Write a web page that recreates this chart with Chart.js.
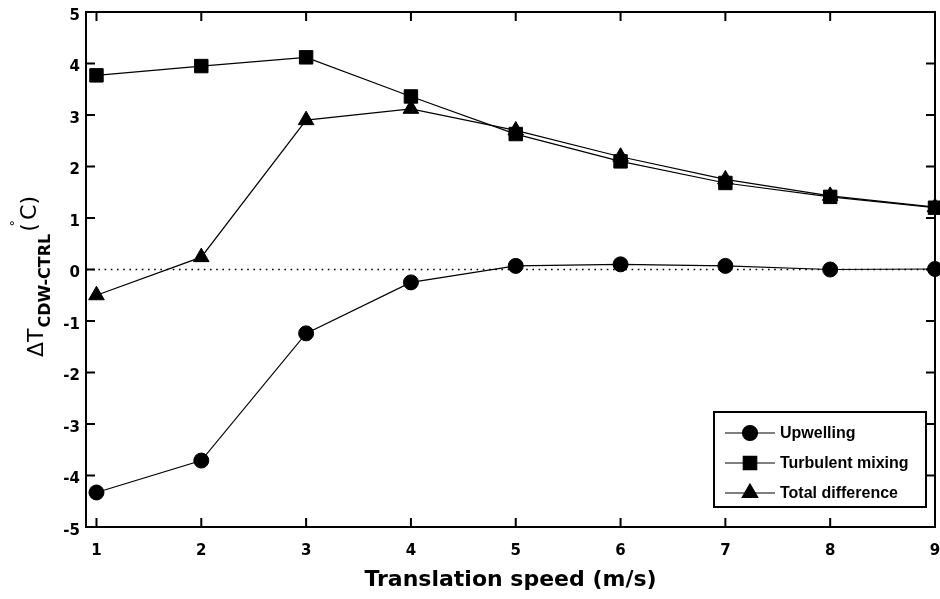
<!DOCTYPE html>
<html>
<head>
<meta charset="utf-8">
<script src="https://cdn.jsdelivr.net/npm/chart.js@4/dist/chart.umd.min.js"></script>
<style>
  html, body { margin: 0; padding: 0; background: #ffffff; }
  #wrap { width: 940px; height: 599px; }
</style>
</head>
<body>
<div id="wrap"><canvas id="c" width="940" height="599"></canvas></div>
<script>
// ---- data ----
const speeds = [1, 2, 3, 4, 5, 6, 7, 8, 9];
const upwelling = [-4.33, -3.71, -1.24, -0.25, 0.07, 0.10, 0.07, 0.00, 0.01];
const turbulentMixing = [3.77, 3.95, 4.12, 3.36, 2.63, 2.10, 1.68, 1.41, 1.20];
const totalDifference = [-0.50, 0.24, 2.90, 3.12, 2.70, 2.19, 1.75, 1.43, 1.21];
const xTicks = [1, 2, 3, 4, 5, 6, 7, 8, 9];
const yTicks = [-5, -4, -3, -2, -1, 0, 1, 2, 3, 4, 5];
const xRange = [0.9, 9];
const yRange = [-5, 5];
const zeroRef = 0;
const seriesLabels = ['Upwelling', 'Turbulent mixing', 'Total difference'];
const xTitle = 'Translation speed (m/s)';
const yTitleParts = { main: '\u0394T', sub: 'CDW-CTRL', open: '(', deg: '\u00B0', unit: 'C', close: ')' };

const toPts = arr => speeds.map((s, i) => ({ x: s, y: arr[i] }));

function mkSet(label, arr, style, radius) {
  return {
    label: label,
    data: toPts(arr),
    borderColor: '#000',
    backgroundColor: '#000',
    borderWidth: 1.2,
    pointStyle: style,
    pointRadius: radius,
    pointHoverRadius: radius,
    pointBackgroundColor: '#000',
    pointBorderColor: '#000',
    pointBorderWidth: 1,
    tension: 0,
    fill: false,
    clip: false
  };
}

// frame, inward ticks and dotted zero line
const framePlugin = {
  id: 'frame',
  beforeDatasetsDraw(chart) {
    const { ctx, chartArea: a, scales } = chart;
    const xs = scales.x, ys = scales.y;
    ctx.save();
    // dotted zero line
    const y0 = ys.getPixelForValue(zeroRef);
    ctx.strokeStyle = '#000';
    ctx.lineWidth = 1.5;
    ctx.setLineDash([1.6, 4.6]);
    ctx.beginPath();
    ctx.moveTo(a.left, y0);
    ctx.lineTo(a.right, y0);
    ctx.stroke();
    ctx.setLineDash([]);
    // inward ticks
    ctx.lineWidth = 2;
    const tl = 9;
    ctx.beginPath();
    xTicks.forEach(v => {
      const px = xs.getPixelForValue(v);
      ctx.moveTo(px, a.bottom); ctx.lineTo(px, a.bottom - tl);
      ctx.moveTo(px, a.top); ctx.lineTo(px, a.top + tl);
    });
    yTicks.forEach(v => {
      const py = ys.getPixelForValue(v);
      ctx.moveTo(a.left, py); ctx.lineTo(a.left + tl, py);
      ctx.moveTo(a.right, py); ctx.lineTo(a.right - tl, py);
    });
    ctx.stroke();
    // box
    ctx.lineWidth = 2;
    ctx.strokeRect(a.left, a.top, a.right - a.left, a.bottom - a.top);
    ctx.restore();
  },
  afterDraw(chart) {
    // y-axis title with subscript and superscript
    const { ctx, chartArea: a } = chart;
    ctx.save();
    ctx.fillStyle = '#000';
    ctx.textBaseline = 'alphabetic';
    ctx.textAlign = 'left';
    const fMain = 'normal 22px "DejaVu Sans"';
    const fSub = 'bold 16px "DejaVu Sans"';
    const fDeg = 'normal 13px "DejaVu Sans"';
    ctx.font = fMain; const wMain = ctx.measureText(yTitleParts.main).width;
    ctx.font = fSub; const wSub = ctx.measureText(yTitleParts.sub).width;
    ctx.font = fMain; const wOpen = ctx.measureText(yTitleParts.open).width;
    ctx.font = fDeg; const wDeg = ctx.measureText(yTitleParts.deg).width;
    ctx.font = fMain; const wUnit = ctx.measureText(yTitleParts.unit).width;
    const wClose = ctx.measureText(yTitleParts.close).width;
    const total = wMain + 1 + wSub + 2 + wOpen + wDeg * 0.5 + wUnit + wClose;
    const cy = (a.top + a.bottom) / 2 + 7;
    ctx.translate(0, cy + total / 2);
    ctx.rotate(-Math.PI / 2);
    let u = 0;
    ctx.font = fMain; ctx.fillText(yTitleParts.main, u, 43); u += wMain + 1;
    ctx.font = fSub; ctx.fillText(yTitleParts.sub, u, 50); u += wSub + 2;
    ctx.font = fMain; ctx.fillText(yTitleParts.open, u, 36); u += wOpen;
    ctx.font = fDeg; ctx.fillText(yTitleParts.deg, u - wDeg * 0.5, 19); u += wDeg * 0.5;
    ctx.font = fMain; ctx.fillText(yTitleParts.unit, u, 36); u += wUnit;
    ctx.fillText(yTitleParts.close, u, 36);
    ctx.restore();

    // legend box inside the plot, bottom right
    ctx.save();
    const bw = 212, bh = 95;
    const bx = a.right - 9 - bw, by = a.bottom - 20 - bh;
    ctx.fillStyle = '#fff';
    ctx.fillRect(bx, by, bw, bh);
    ctx.strokeStyle = '#000';
    ctx.lineWidth = 2;
    ctx.strokeRect(bx, by, bw, bh);
    chart.data.datasets.forEach((ds, i) => {
      const ly = by + 21 + i * 30;
      ctx.strokeStyle = '#000';
      ctx.lineWidth = 1.2;
      ctx.beginPath();
      ctx.moveTo(bx + 11, ly);
      ctx.lineTo(bx + 61, ly);
      ctx.stroke();
      ctx.fillStyle = '#000';
      Chart.helpers.drawPoint(ctx, { pointStyle: ds.pointStyle, radius: ds.pointRadius, rotation: 0, borderWidth: 1 }, bx + 36, ly);
      ctx.fillStyle = '#000';
      ctx.font = 'bold 16px "Liberation Sans", Arial, sans-serif';
      ctx.textBaseline = 'middle';
      ctx.textAlign = 'left';
      ctx.fillText(ds.label, bx + 66, ly + 1);
    });
    ctx.restore();
  }
};

const chart = new Chart(document.getElementById('c'), {
  type: 'line',
  data: {
    datasets: [
      mkSet(seriesLabels[0], upwelling, 'circle', 7.5),
      mkSet(seriesLabels[1], turbulentMixing, 'rect', 9.5),
      mkSet(seriesLabels[2], totalDifference, 'triangle', 9)
    ]
  },
  options: {
    responsive: false,
    devicePixelRatio: 1,
    animation: false,
    layout: { autoPadding: false, padding: { top: 12, right: 5, left: 0, bottom: 0 } },
    plugins: {
      legend: { display: false },
      tooltip: { enabled: false },
      title: { display: false }
    },
    scales: {
      x: {
        type: 'linear',
        min: xRange[0],
        max: xRange[1],
        grid: { display: false, drawTicks: false },
        border: { display: false },
        afterBuildTicks: s => { s.ticks = xTicks.map(v => ({ value: v })); },
        afterFit: s => { s.height = 72; s.paddingLeft = 0; s.paddingRight = 0; },
        ticks: {
          color: '#000',
          padding: 15,
          maxRotation: 0,
          autoSkip: false,
          font: { family: '"DejaVu Sans"', size: 15, weight: 'bold' }
        },
        title: {
          display: true,
          text: xTitle,
          color: '#000',
          padding: { top: 0, bottom: 6 },
          font: { family: '"DejaVu Sans"', size: 22, weight: 'bold' }
        }
      },
      y: {
        type: 'linear',
        min: yRange[0],
        max: yRange[1],
        grid: { display: false, drawTicks: false },
        border: { display: false },
        afterBuildTicks: s => { s.ticks = yTicks.map(v => ({ value: v })); },
        afterFit: s => { s.width = 86; s.paddingTop = 0; s.paddingBottom = 0; },
        ticks: {
          color: '#000',
          padding: 6,
          labelOffset: 4,
          autoSkip: false,
          font: { family: '"DejaVu Sans"', size: 15, weight: 'bold' }
        }
      }
    }
  },
  plugins: [framePlugin]
});
</script>
</body>
</html>
